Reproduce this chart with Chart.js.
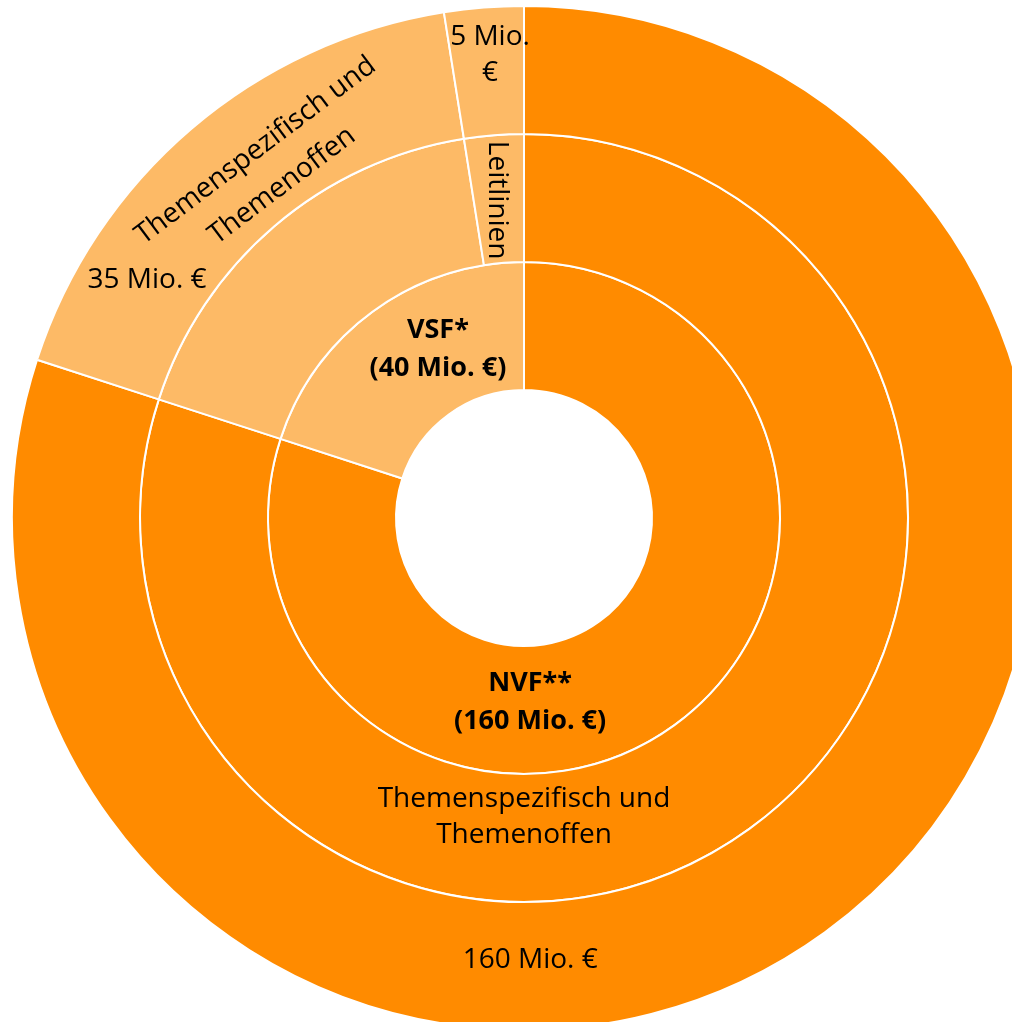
<!DOCTYPE html>
<html>
<head>
<meta charset="utf-8">
<script src="https://cdn.jsdelivr.net/npm/chart.js@4"></script>
<style>
  html, body { margin: 0; padding: 0; background: #fff; overflow: hidden; width: 1012px; height: 1022px; }
  #chart { position: absolute; left: 11px; top: 5px; }
</style>
</head>
<body>
<canvas id="chart" width="1026" height="1026"></canvas>
<script>
// inner ring: funding lines
const fundLabels = ['NVF**', 'VSF*'];
const fundValues = [160, 40];

// middle ring: programme types
const programLabels = ['Themenspezifisch und\nThemenoffen', 'Themenspezifisch und\nThemenoffen', 'Leitlinien'];
const programValues = [160, 35, 5];

// outer ring: amounts
const budgetLabels = ['160 Mio. €', '35 Mio. €', '5 Mio.\n€'];
const budgetValues = [160, 35, 5];

const DARK = '#ff8b00';
const LIGHT = '#fdba66';

// where each ring label sits: angle (deg, clockwise from top), radius, text rotation (deg)
const labelPlace = {
  'outer-0': { angle: 179.2, r: 442, rot: 0 },
  'outer-1': { angle: -57.7, r: 446, rot: 0 },
  'outer-2': { angle: -4.2, r: 464, rot: 0 },
  'middle-0': { angle: 180, r: 299, rot: 0 },
  'middle-1': { angle: -36.1, r: 433, rot: -37, lh: 44 },
  'middle-2': { angle: -4.85, r: 319, rot: 90 },
  'inner-0': { angle: 178.1, r: 184, rot: 0, bold: true },
  'inner-1': { angle: -27.1, r: 189, rot: 0, bold: true }
};

const ringLabels = {
  id: 'ringLabels',
  afterDatasetsDraw(chart) {
    const ctx = chart.ctx;
    const arc = chart.getDatasetMeta(0).data[0];
    const cx = arc.x, cy = arc.y;
    const texts = {
      outer: budgetLabels,
      middle: programLabels,
      inner: fundLabels.map((n, i) => n + '\n(' + fundValues[i] + ' Mio. €)')
    };
    ctx.save();
    ctx.fillStyle = '#000';
    ctx.textAlign = 'center';
    ctx.textBaseline = 'middle';
    Object.keys(texts).forEach(ring => {
      texts[ring].forEach((t, i) => {
        const p = labelPlace[ring + '-' + i];
        if (!p) return;
        const a = p.angle * Math.PI / 180;
        const x = cx + p.r * Math.sin(a);
        const y = cy - p.r * Math.cos(a);
        const lines = t.split('\n');
        const lh = p.lh || (p.bold ? 38 : 36);
        ctx.font = p.bold ? 'bold 27px "Open Sans", sans-serif' : '28px "Open Sans", sans-serif';
        ctx.save();
        ctx.translate(x, y);
        ctx.rotate(p.rot * Math.PI / 180);
        lines.forEach((ln, k) => {
          ctx.fillText(ln, 0, (k - (lines.length - 1) / 2) * lh);
        });
        ctx.restore();
      });
    });
    ctx.restore();
  }
};

new Chart(document.getElementById('chart').getContext('2d'), {
  type: 'doughnut',
  data: {
    datasets: [
      {
        label: 'Betrag',
        data: budgetValues,
        backgroundColor: [DARK, LIGHT, LIGHT],
        borderColor: '#fff',
        borderWidth: 2
      },
      {
        label: 'Programm',
        data: programValues,
        backgroundColor: [DARK, LIGHT, LIGHT],
        borderColor: '#fff',
        borderWidth: 2
      },
      {
        label: 'Fonds',
        data: fundValues,
        backgroundColor: [DARK, LIGHT],
        borderColor: '#fff',
        borderWidth: 2
      }
    ]
  },
  options: {
    responsive: false,
    animation: false,
    devicePixelRatio: 1,
    cutout: '25%',
    plugins: {
      legend: { display: false },
      tooltip: { enabled: false }
    }
  },
  plugins: [ringLabels]
});
</script>
</body>
</html>
